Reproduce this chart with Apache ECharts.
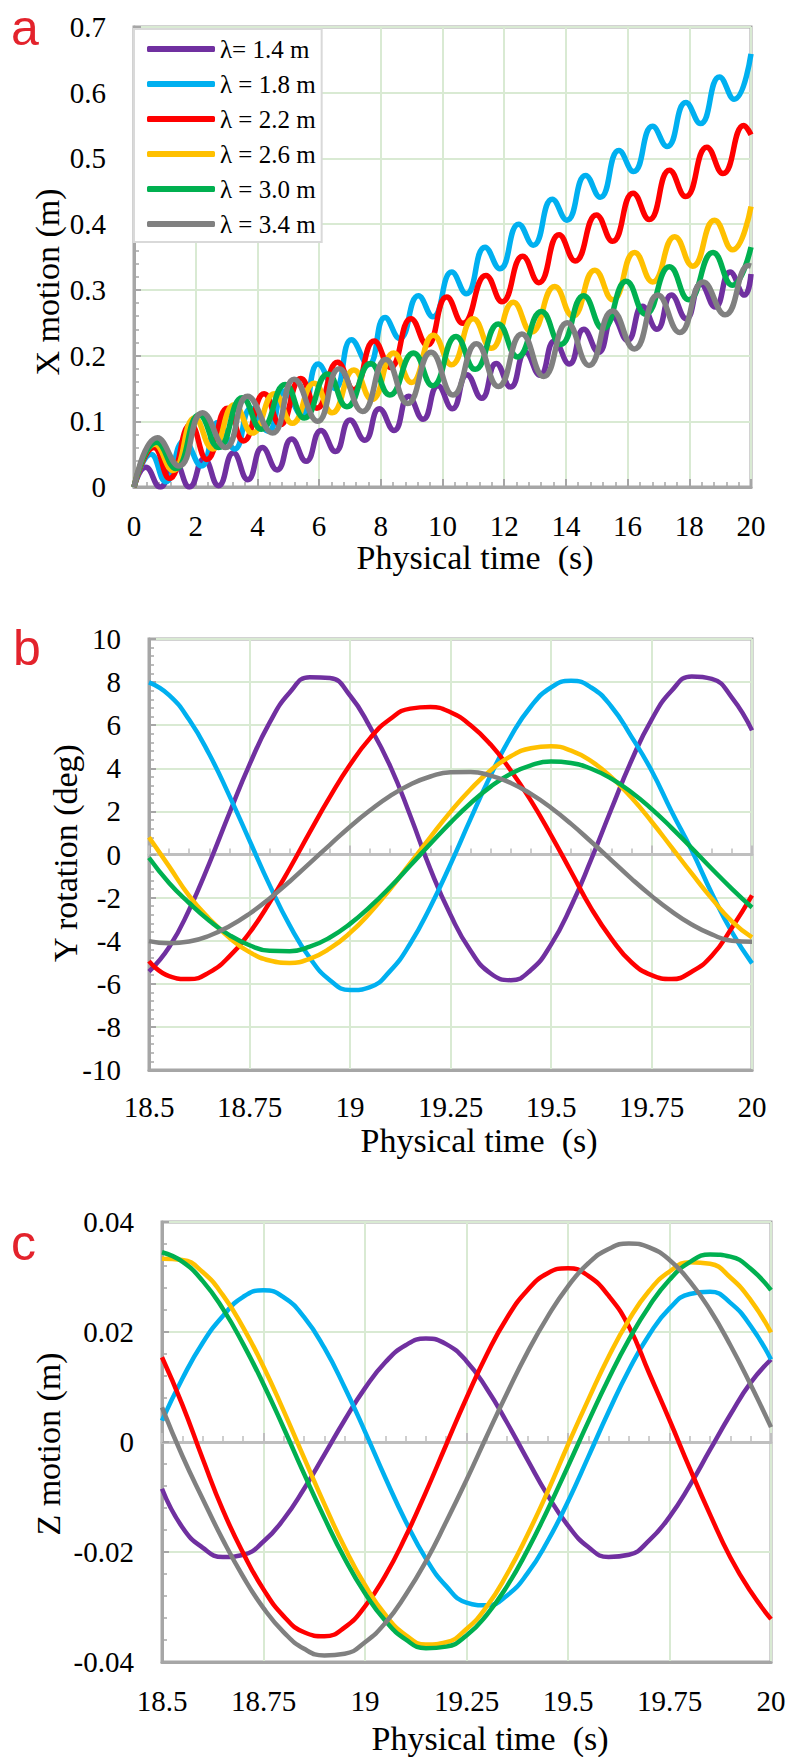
<!DOCTYPE html>
<html>
<head>
<meta charset="utf-8">
<script src="https://cdn.jsdelivr.net/npm/echarts@6/dist/echarts.min.js"></script>
<style>html,body{margin:0;padding:0;background:#fff}#chart{width:790px;height:1757px}</style>
</head>
<body>
<div id="chart"></div>
<script>
// legend names and colours (same order in all three panels)
const names = ['λ= 1.4 m', 'λ = 1.8 m', 'λ = 2.2 m', 'λ = 2.6 m', 'λ = 3.0 m', 'λ = 3.4 m'];
const colors = ['#7030a0', '#00b0f0', '#ff0000', '#ffc000', '#00b050', '#808080'];

// panel a: X motion (m), peaks and troughs [t, x]
const aPurple = [[0,0],[0.38,0.030],[0.85,0.0],[1.32,0.038],[1.80,0.0],[2.27,0.043],[2.74,0.002],[3.22,0.052],[3.69,0.011],[4.16,0.060],[4.64,0.026],[5.11,0.073],[5.58,0.039],[6.06,0.086],[6.53,0.054],[7.00,0.102],[7.48,0.071],[7.95,0.119],[8.43,0.086],[8.90,0.138],[9.37,0.103],[9.85,0.154],[10.32,0.119],[10.79,0.171],[11.27,0.135],[11.74,0.188],[12.21,0.152],[12.69,0.205],[13.16,0.170],[13.63,0.222],[14.11,0.187],[14.58,0.240],[15.06,0.205],[15.53,0.258],[16.00,0.223],[16.48,0.275],[16.95,0.240],[17.42,0.292],[17.90,0.256],[18.37,0.309],[18.84,0.274],[19.32,0.327],[19.79,0.292],[20,0.324]];
const aBlue = [[0,0],[0.55,0.050],[1.03,0.008],[1.63,0.070],[2.18,0.032],[2.72,0.098],[3.26,0.058],[3.80,0.120],[4.35,0.085],[4.88,0.146],[5.43,0.110],[5.97,0.187],[6.51,0.150],[7.05,0.224],[7.60,0.186],[8.14,0.258],[8.61,0.226],[9.22,0.291],[9.69,0.259],[10.30,0.327],[10.77,0.294],[11.38,0.365],[11.86,0.332],[12.47,0.400],[12.94,0.368],[13.56,0.438],[14.03,0.406],[14.64,0.474],[15.11,0.441],[15.72,0.512],[16.19,0.480],[16.81,0.549],[17.28,0.518],[17.89,0.585],[18.36,0.553],[18.98,0.624],[19.45,0.590],[20,0.659]];
const aRed = [[0,0],[0.65,0.060],[1.15,0.013],[1.84,0.095],[2.36,0.042],[3.03,0.120],[3.55,0.070],[4.22,0.142],[4.74,0.095],[5.41,0.165],[5.93,0.120],[6.60,0.190],[7.12,0.148],[7.79,0.222],[8.31,0.182],[8.98,0.256],[9.50,0.216],[10.14,0.289],[10.66,0.249],[11.41,0.322],[11.93,0.282],[12.60,0.351],[13.12,0.311],[13.78,0.384],[14.30,0.344],[14.99,0.414],[15.51,0.374],[16.18,0.447],[16.70,0.407],[17.36,0.482],[17.88,0.442],[18.57,0.517],[19.09,0.477],[19.77,0.550],[20,0.536]];
const aYellow = [[0,0],[0.68,0.065],[1.26,0.025],[1.97,0.105],[2.55,0.058],[3.26,0.125],[3.84,0.082],[4.55,0.142],[5.13,0.097],[5.84,0.158],[6.42,0.113],[7.13,0.178],[7.71,0.133],[8.42,0.204],[9.00,0.159],[9.71,0.231],[10.29,0.186],[11.00,0.256],[11.58,0.211],[12.30,0.281],[12.88,0.236],[13.64,0.305],[14.22,0.260],[14.94,0.330],[15.52,0.285],[16.23,0.357],[16.81,0.312],[17.53,0.381],[18.11,0.336],[18.82,0.406],[19.40,0.361],[20,0.427]];
const aGreen = [[0,0],[0.74,0.068],[1.35,0.028],[2.12,0.110],[2.74,0.060],[3.51,0.136],[4.13,0.088],[4.90,0.156],[5.52,0.105],[6.28,0.172],[6.90,0.122],[7.67,0.188],[8.29,0.140],[9.06,0.204],[9.68,0.154],[10.44,0.229],[11.06,0.179],[11.81,0.248],[12.43,0.198],[13.21,0.267],[13.83,0.217],[14.58,0.291],[15.20,0.241],[15.96,0.313],[16.58,0.263],[17.36,0.335],[17.98,0.285],[18.77,0.357],[19.39,0.307],[20,0.365]];
const aGray = [[0,0],[0.76,0.075],[1.46,0.032],[2.22,0.113],[2.97,0.060],[3.68,0.138],[4.49,0.082],[5.19,0.164],[5.95,0.100],[6.65,0.180],[7.41,0.115],[8.16,0.194],[8.87,0.127],[9.63,0.205],[10.34,0.140],[11.10,0.218],[11.81,0.153],[12.57,0.233],[13.28,0.168],[14.04,0.250],[14.75,0.185],[15.51,0.268],[16.22,0.210],[16.98,0.292],[17.69,0.235],[18.45,0.312],[19.16,0.262],[19.92,0.337],[20,0.336]];

// panels b and c share the time samples
const tZoom = [18.5,18.55,18.6,18.65,18.7,18.75,18.8,18.85,18.9,18.95,19,19.05,19.1,19.15,19.2,19.25,19.3,19.35,19.4,19.45,19.5,19.55,19.6,19.65,19.7,19.75,19.8,19.85,19.9,19.95,20];

// panel b: Y rotation (deg)
const bPurple = [-5.43,-4.30,-2.56,-0.41,1.92,4.17,6.12,7.52,8.23,8.19,7.38,5.91,4.1,1.8,-0.68,-2.80,-4.47,-5.52,-5.83,-5.36,-4.18,-2.40,-0.23,2.10,4.35,6.25,7.60,8.26,8.15,7.28,5.76];
const bBlue = [7.99,7.40,6.25,4.65,2.72,0.65,-1.42,-3.29,-4.80,-5.83,-6.29,-6.15,-5.40,-4.13,-2.42,-0.45,1.65,3.68,5.47,6.87,7.75,8.06,7.75,6.87,5.47,3.9,2.0,0.2,-1.8,-3.6,-5.05];
const bRed = [-4.95,-5.64,-5.78,-5.47,-4.73,-3.63,-2.23,-0.65,1.04,2.67,4.16,5.40,6.29,6.77,6.84,6.6,6.0,5.1,3.9,2.5,0.9,-0.8,-2.5,-3.9,-5.0,-5.6,-5.78,-5.44,-4.70,-3.4,-1.9];
const bYellow = [0.8,-0.55,-1.92,-2.98,-3.86,-4.53,-4.92,-5.03,-4.84,-4.36,-3.64,-2.70,-1.60,-0.40,0.81,1.98,3.03,3.91,4.56,4.93,5.02,4.82,4.33,3.59,2.64,1.53,0.33,-0.88,-2.05,-3.10,-3.85];
const bGreen = [-0.15,-1.32,-2.25,-3.07,-3.74,-4.21,-4.47,-4.49,-4.28,-3.85,-3.22,-2.42,-1.51,-0.51,0.50,1.48,2.38,3.15,3.75,4.14,4.31,4.25,3.98,3.52,2.89,2.12,1.24,0.30,-0.66,-1.59,-2.46];
const bGray = [-4.02,-4.12,-4.04,-3.77,-3.33,-2.75,-2.04,-1.25,-0.40,0.45,1.29,2.05,2.72,3.25,3.62,3.82,3.83,3.66,3.32,2.81,2.17,1.42,0.59,-0.26,-1.12,-1.92,-2.64,-3.25,-3.71,-4.00,-4.05];

// panel c: Z motion (m)
const cPurple = [-0.0085,-0.0155,-0.0192,-0.0209,-0.0205,-0.0181,-0.0140,-0.0085,-0.0023,0.0040,0.0098,0.0145,0.0176,0.0188,0.0178,0.0147,0.0097,0.0035,-0.0032,-0.0097,-0.0152,-0.0191,-0.0209,-0.0205,-0.0179,-0.0136,-0.0079,-0.0014,0.0050,0.0108,0.0150];
const cBlue = [0.0039,0.0115,0.0180,0.0229,0.0264,0.0276,0.0263,0.0227,0.0171,0.0099,0.0019,-0.0065,-0.0144,-0.0212,-0.0262,-0.0292,-0.0297,-0.0279,-0.0239,-0.0180,-0.0108,-0.0027,0.0055,0.0131,0.0195,0.0243,0.0269,0.0273,0.0253,0.0211,0.0150];
const cRed = [0.0154,0.0068,-0.0030,-0.0124,-0.0202,-0.0268,-0.0317,-0.0346,-0.0353,-0.0337,-0.0299,-0.0243,-0.0172,-0.0091,-0.0005,0.0080,0.0159,0.0226,0.0276,0.0307,0.0316,0.0302,0.0266,0.0210,0.0125,0.0040,-0.0048,-0.0132,-0.0210,-0.0272,-0.0322];
const cYellow = [0.0333,0.0331,0.0309,0.0267,0.0208,0.0137,0.0056,-0.0029,-0.0113,-0.0192,-0.0260,-0.0314,-0.0351,-0.0368,-0.0364,-0.0340,-0.0299,-0.0240,-0.0169,-0.0090,-0.0005,0.0077,0.0155,0.0222,0.0275,0.0310,0.0327,0.0324,0.0299,0.0258,0.0199];
const cGreen = [0.0345,0.0328,0.0293,0.0242,0.0178,0.0105,0.0025,-0.0058,-0.0138,-0.0212,-0.0275,-0.0325,-0.0359,-0.0375,-0.0372,-0.0352,-0.0314,-0.0262,-0.0197,-0.0123,-0.0044,0.0037,0.0115,0.0186,0.0247,0.0295,0.0327,0.0341,0.0337,0.0315,0.0276];
const cGray = [0.0063,-0.0025,-0.0103,-0.0178,-0.0245,-0.0302,-0.0346,-0.0376,-0.0388,-0.0385,-0.0364,-0.0329,-0.0278,-0.0217,-0.0145,-0.0069,0.0011,0.0089,0.0163,0.0228,0.0283,0.0325,0.0351,0.0361,0.0354,0.0331,0.0292,0.0240,0.0176,0.0104,0.0027];

const GRAY = '#a6a6a6';
const GREEN_GRID = '#d9ead3';
const SERIF = 'Liberation Serif';
const RED_LETTER = '#e3232c';

const chart = echarts.init(document.getElementById('chart'), null, { renderer: 'svg' });

// tick labels go through a rich token so the serif face is used
function labelStyle(margin) {
  return {
    margin: margin,
    formatter: v => '{s|' + v + '}',
    rich: { s: { fontFamily: SERIF, fontSize: 29, lineHeight: 28, color: '#000' } }
  };
}

// bottom x axis of a panel (labels + grid lines)
function bottomAxis(grid, min, max, interval, withTicks, margin) {
  return {
    type: 'value', gridIndex: grid, min: min, max: max, interval: interval,
    axisLine: { onZero: false, lineStyle: { color: GRAY, width: 3 } },
    axisTick: { show: withTicks, inside: true, length: 8, lineStyle: { color: GRAY, width: 2 } },
    minorTick: { show: withTicks, splitNumber: 5, length: 5, lineStyle: { color: GRAY, width: 1.5 } },
    splitLine: { show: true, lineStyle: { color: GREEN_GRID, width: 2 } },
    axisLabel: labelStyle(margin)
  };
}

// extra x axis drawn on the zero line, ticks only
function zeroAxis(grid, min, max, interval) {
  return {
    type: 'value', gridIndex: grid, position: 'top', min: min, max: max, interval: interval,
    axisLine: { onZero: true, lineStyle: { color: '#bfbfbf', width: 3 } },
    axisTick: { show: true, inside: false, length: 9, lineStyle: { color: '#bfbfbf', width: 2 } },
    minorTick: { show: true, splitNumber: 5, length: 6, lineStyle: { color: '#bfbfbf', width: 1.5 } },
    splitLine: { show: false },
    axisLabel: { show: false }
  };
}

function leftAxis(grid, min, max, interval) {
  return {
    type: 'value', gridIndex: grid, min: min, max: max, interval: interval,
    axisLine: { show: true, onZero: false, lineStyle: { color: GRAY, width: 3 } },
    axisTick: { show: true, inside: true, length: 7, lineStyle: { color: GRAY, width: 2 } },
    minorTick: { show: true, splitNumber: 5, length: 5, lineStyle: { color: GRAY, width: 1.5 } },
    splitLine: { show: true, lineStyle: { color: GREEN_GRID, width: 2 } },
    axisLabel: labelStyle(28)
  };
}

const seriesA = [aPurple, aBlue, aRed, aYellow, aGreen, aGray];
const seriesB = [bPurple, bBlue, bRed, bYellow, bGreen, bGray];
const seriesC = [cPurple, cBlue, cRed, cYellow, cGreen, cGray];

const series = [];
names.forEach((n, i) => {
  series.push({
    name: n, type: 'line', xAxisIndex: 0, yAxisIndex: 0, data: seriesA[i],
    smooth: true, symbol: 'none', lineStyle: { width: 5.5, color: colors[i] }, itemStyle: { color: colors[i] }
  });
});
names.forEach((n, i) => {
  series.push({
    name: n, type: 'line', xAxisIndex: 1, yAxisIndex: 1, data: tZoom.map((t, k) => [t, seriesB[i][k]]),
    smooth: true, symbol: 'none', lineStyle: { width: 4.5, color: colors[i] }, itemStyle: { color: colors[i] }
  });
});
names.forEach((n, i) => {
  series.push({
    name: n, type: 'line', xAxisIndex: 3, yAxisIndex: 2, data: tZoom.map((t, k) => [t, seriesC[i][k]]),
    smooth: true, symbol: 'none', lineStyle: { width: 4.5, color: colors[i] }, itemStyle: { color: colors[i] }
  });
});

function titleText(text, x, y, rotate) {
  return {
    type: 'text', x: x, y: y, rotation: rotate ? Math.PI / 2 : 0,
    style: { text: text, fontFamily: SERIF, fontSize: 34, lineHeight: 26, fill: '#000', align: 'center', verticalAlign: 'middle' }
  };
}
function panelLetter(text, x, y) {
  return {
    type: 'text', x: x, y: y,
    style: { text: text, fontFamily: 'Liberation Sans', fontSize: 50, fill: RED_LETTER, align: 'left', verticalAlign: 'middle' }
  };
}

chart.setOption({
  animation: false,
  backgroundColor: '#fff',
  textStyle: { fontFamily: SERIF },
  grid: [
    { left: 134, top: 27, width: 617, height: 460, show: true, borderColor: GRAY, borderWidth: 3 },
    { left: 149, top: 639, width: 603, height: 431, show: true, borderColor: GRAY, borderWidth: 3 },
    { left: 162, top: 1222, width: 609, height: 440, show: true, borderColor: GRAY, borderWidth: 3 }
  ],
  xAxis: [
    bottomAxis(0, 0, 20, 2, true, 25),
    bottomAxis(1, 18.5, 20, 0.25, false, 23),
    zeroAxis(1, 18.5, 20, 0.25),
    bottomAxis(2, 18.5, 20, 0.25, false, 25),
    zeroAxis(2, 18.5, 20, 0.25)
  ],
  yAxis: [
    leftAxis(0, 0, 0.7, 0.1),
    leftAxis(1, -10, 10, 2),
    leftAxis(2, -0.04, 0.04, 0.02)
  ],
  legend: {
    data: names, left: 134, top: 29, orient: 'vertical', selectedMode: false,
    icon: 'roundRect', itemWidth: 68, itemHeight: 6, itemGap: 7,
    padding: [6, 6, 4, 13], backgroundColor: '#fff', borderColor: '#d9d9d9', borderWidth: 2,
    textStyle: { fontFamily: SERIF, fontSize: 25, color: '#000', lineHeight: 28 }
  },
  graphic: [
    panelLetter('a', 11, 28),
    panelLetter('b', 13, 648),
    panelLetter('c', 11, 1243),
    titleText('X motion (m)', 47, 282, true),
    titleText('Y rotation (deg)', 65, 853, true),
    titleText('Z motion (m)', 48, 1444, true),
    titleText('Physical time \u00a0(s)', 475, 557, false),
    titleText('Physical time \u00a0(s)', 479, 1140, false),
    titleText('Physical time \u00a0(s)', 490, 1738, false)
  ],
  series: series
});
</script>
</body>
</html>
